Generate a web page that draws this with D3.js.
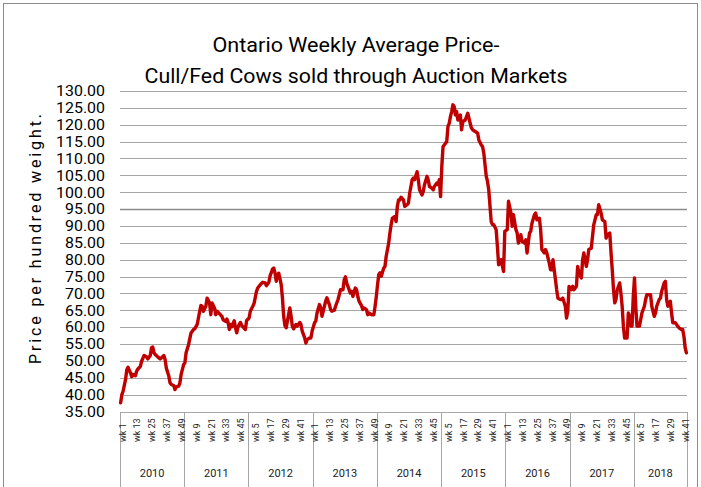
<!DOCTYPE html>
<html><head><meta charset="utf-8">
<script src="https://cdn.jsdelivr.net/npm/d3@7"></script>
<style>body{margin:0;background:#fff} svg{display:block}</style>
</head><body><svg id="c" width="701" height="487"></svg>
<script>
// ---- data (week number within year, price per cwt) ----
const years = [2010, 2011, 2012, 2013, 2014, 2015, 2016, 2017, 2018];
const weeksInYear = [52, 52, 52, 52, 52, 52, 52, 52, 43];
const yTicks = [35,40,45,50,55,60,65,70,75,80,85,90,95,100,105,110,115,120,125,130];
const titleLines = ["Ontario Weekly Average Price-", "Cull/Fed Cows sold through Auction Markets"];
const yTitle = "Price per hundred weight.";

const price2010 = [[1,37.6],[2,40.0],[3,41.0],[5,44.5],[6,47.4],[7,48.1],[9,46.4],[10,45.3],[11,46.0],[13,45.6],[14,47.0],[15,47.6],[17,48.4],[18,49.9],[20,51.6],[22,51.2],[23,50.6],[25,51.6],[26,53.9],[27,54.1],[28,52.4],[29,51.9],[31,51.2],[33,50.6],[34,50.9],[36,51.6],[37,50.4],[38,47.9],[40,45.5],[41,43.5],[42,43.0],[44,42.7],[45,41.5],[46,42.3],[48,42.5],[49,43.5],[50,46.0],[52,48.9]];
const price2011 = [[1,49.4],[2,52.4],[4,54.8],[6,58.3],[8,59.3],[9,59.5],[11,60.8],[12,62.7],[13,64.7],[14,66.4],[15,66.2],[16,64.7],[18,66.2],[19,68.6],[21,67.2],[22,63.7],[23,67.2],[24,66.4],[25,65.7],[26,63.7],[27,64.7],[29,64.0],[31,63.2],[32,62.2],[34,61.7],[35,62.4],[36,61.4],[37,59.3],[38,60.8],[39,60.1],[41,61.9],[42,59.8],[43,58.3],[44,60.1],[46,61.4],[47,60.5],[48,60.1],[50,59.3],[51,62.0]];
const price2012 = [[1,62.7],[2,64.7],[4,66.2],[5,67.0],[7,70.6],[8,71.6],[10,72.6],[12,73.3],[14,73.1],[15,72.3],[17,73.3],[18,75.2],[20,77.2],[21,77.5],[22,76.0],[23,73.6],[24,75.5],[25,76.0],[27,72.6],[28,68.6],[29,63.2],[30,60.5],[31,59.8],[33,63.7],[34,65.7],[35,63.2],[36,60.3],[37,59.5],[39,60.8],[40,60.3],[42,61.4],[43,60.8],[44,58.8],[46,56.8],[47,55.3],[48,56.3],[50,56.8],[51,56.8],[52,58.8]];
const price2013 = [[2,61.3],[3,61.8],[4,64.2],[6,66.7],[7,65.7],[8,63.2],[10,66.2],[11,67.7],[12,68.7],[14,66.7],[15,65.2],[16,64.7],[18,65.0],[19,66.2],[21,68.2],[22,69.6],[23,71.1],[25,71.1],[26,74.1],[27,74.9],[28,73.1],[29,72.1],[31,70.1],[32,70.6],[33,69.1],[35,71.6],[36,71.1],[37,69.1],[38,67.7],[40,66.4],[41,65.2],[42,65.7],[44,65.2],[45,63.7],[46,64.2],[48,63.7],[50,63.7],[51,66.2],[52,69.1]];
const price2014 = [[1,72.6],[2,75.6],[3,76.1],[4,75.1],[6,77.5],[7,78.0],[8,81.0],[10,84.9],[11,87.9],[12,90.4],[13,92.3],[15,92.8],[16,91.3],[17,95.8],[18,97.7],[19,97.7],[20,98.5],[22,97.7],[23,95.8],[25,96.3],[26,96.8],[27,99.7],[29,103.7],[30,104.2],[31,103.7],[33,106.1],[34,103.7],[35,100.7],[37,99.2],[38,100.2],[39,102.2],[41,104.7],[42,103.7],[43,101.7],[45,101.2],[46,100.7],[47,101.7],[49,102.7],[50,102.2],[51,103.7],[52,98.7]];
const price2015 = [[1,107.6],[2,113.5],[4,114.5],[5,115.0],[6,119.5],[7,120.4],[8,122.4],[9,123.9],[10,125.9],[11,125.4],[12,122.9],[13,123.9],[14,121.4],[16,122.9],[17,118.5],[18,120.9],[20,121.4],[21,122.4],[22,123.4],[24,120.4],[25,119.0],[26,118.5],[28,118.0],[30,117.5],[31,115.5],[33,114.0],[34,113.5],[35,111.6],[37,104.7],[38,103.2],[39,100.7],[41,91.3],[42,90.4],[43,90.4],[45,88.9],[46,84.0],[47,78.5],[48,79.0],[49,80.0],[51,76.5],[52,88.4]];
const price2016 = [[2,88.9],[3,97.3],[5,93.8],[6,89.9],[7,93.3],[9,88.9],[10,87.9],[11,84.9],[13,87.4],[14,85.4],[16,84.9],[17,85.9],[18,82.0],[20,87.9],[21,88.4],[22,90.8],[24,93.3],[25,93.8],[26,91.8],[28,92.3],[29,88.9],[30,83.0],[32,82.0],[33,83.0],[34,82.0],[36,79.0],[37,77.0],[38,77.0],[39,80.0],[41,74.1],[42,71.1],[43,68.6],[45,68.2],[46,68.2],[47,68.6],[49,66.2],[50,62.7],[51,64.7],[52,72.1]];
const price2017 = [[2,71.1],[3,72.1],[4,71.1],[6,72.1],[7,78.0],[8,76.0],[10,74.6],[11,80.0],[12,82.0],[14,78.0],[15,80.0],[16,83.0],[18,83.4],[19,86.9],[20,90.3],[22,93.3],[23,93.3],[24,96.3],[26,93.8],[27,91.8],[29,91.3],[30,86.4],[31,87.4],[33,87.9],[34,82.0],[35,77.0],[36,71.1],[37,67.2],[38,68.2],[39,71.1],[41,73.1],[42,70.1],[43,66.2],[44,60.3],[45,56.8],[47,56.8],[48,64.2],[49,63.2],[50,60.3],[51,60.3],[52,69.1]];
const price2018 = [[1,74.6],[2,66.2],[3,60.3],[5,60.3],[6,62.2],[7,64.2],[9,66.2],[10,68.2],[11,69.6],[13,69.6],[14,69.6],[15,66.2],[17,63.2],[18,64.2],[19,66.2],[21,68.2],[22,68.6],[23,70.6],[25,73.1],[26,73.6],[27,68.2],[28,66.2],[30,67.7],[31,64.2],[32,61.3],[34,61.3],[36,60.3],[37,59.8],[39,59.3],[40,59.3],[41,57.3],[42,53.9],[43,52.4]];
const pricesByYear = [price2010, price2011, price2012, price2013, price2014, price2015, price2016, price2017, price2018];
const labelEvery = 12;

// ---- build categories ----
const cats = [];
years.forEach((y, yi) => { for (let w = 1; w <= weeksInYear[yi]; w++) cats.push({year: y, week: w, key: y + "-" + w}); });
const points = [];
pricesByYear.forEach((arr, yi) => arr.forEach(([w, v]) => points.push({key: years[yi] + "-" + w, v})));

const L = 120, R = 687, T = 91, B = 411.5;
const svg = d3.select("#c");
const x = d3.scaleBand().domain(cats.map(c => c.key)).range([L, R]).padding(0);
const y = d3.scaleLinear().domain([35, 130]).range([B, T]);
const cx = k => x(k) + x.bandwidth() / 2;

// outer border
svg.append("rect").attr("x", 3.5).attr("y", 3.5).attr("width", 694).attr("height", 490)
  .attr("fill", "none").attr("stroke", "#8c8c8c").attr("stroke-width", 1);

// gridlines
svg.append("g").selectAll("line").data(yTicks.filter(t => t > 35)).join("line")
  .attr("x1", L).attr("x2", R).attr("y1", d => Math.round(y(d)) + 0.5).attr("y2", d => Math.round(y(d)) + 0.5)
  .attr("stroke", d => d === 95 ? "#8a8a8a" : "#a6a6a6").attr("stroke-width", d => d === 95 ? 1.5 : 1);

// y axis labels
const yAxis = d3.axisLeft(y).tickValues(yTicks).tickFormat(d3.format(".2f")).tickSize(0).tickPadding(15);
const gy = svg.append("g").attr("transform", `translate(${L},0)`).call(yAxis);
gy.select(".domain").remove();
gy.selectAll("text").attr("font-family", "Roboto, sans-serif").attr("font-size", 15).attr("fill", "#000")
  .attr("textLength", 49).attr("lengthAdjust", "spacingAndGlyphs");
gy.selectAll(".tick").filter(d => d < 100).selectAll("text").attr("textLength", 40);

// x axis line
svg.append("line").attr("x1", L).attr("x2", R).attr("y1", Math.round(B) + 0.5).attr("y2", Math.round(B) + 0.5)
  .attr("stroke", "#a6a6a6");

// year group separators
const bounds = [];
years.forEach((yr, yi) => bounds.push(x(yr + "-1")));
bounds.push(R);
svg.append("g").selectAll("line").data(bounds).join("line")
  .attr("x1", d => Math.round(d) + 0.5).attr("x2", d => Math.round(d) + 0.5)
  .attr("y1", Math.round(B)).attr("y2", 487).attr("stroke", "#a6a6a6");

// week labels
const wkCats = cats.filter((c, i) => i % labelEvery === 0);
svg.append("g").selectAll("text").data(wkCats).join("text")
  .attr("transform", d => `translate(${cx(d.key) + 2},442) rotate(-90)`)
  .attr("dominant-baseline", "central")
  .attr("font-family", "Roboto, sans-serif").attr("font-size", 9).attr("fill", "#222")
  .text(d => "wk " + d.week);

// year labels
svg.append("g").selectAll("text").data(years).join("text")
  .attr("x", (d, i) => (bounds[i] + bounds[i + 1]) / 2).attr("y", 473)
  .attr("text-anchor", "middle").attr("dominant-baseline", "central")
  .attr("font-family", "Roboto, sans-serif").attr("font-size", 11).attr("fill", "#222")
  .text(d => d);

// line
const line = d3.line().x(d => cx(d.key)).y(d => y(d.v)).curve(d3.curveLinear);
svg.append("path").datum(points).attr("d", line).attr("fill", "none")
  .attr("stroke", "#c00000").attr("stroke-width", 3.4).attr("stroke-linejoin", "round").attr("stroke-linecap", "round");

// title
svg.append("text").attr("x", 356).attr("y", 52).attr("text-anchor", "middle")
  .attr("font-family", "Roboto, sans-serif").attr("font-size", 21).attr("fill", "#000")
  .attr("textLength", 287).attr("lengthAdjust", "spacingAndGlyphs").text(titleLines[0]);
svg.append("text").attr("x", 356).attr("y", 83).attr("text-anchor", "middle")
  .attr("font-family", "Roboto, sans-serif").attr("font-size", 21).attr("fill", "#000")
  .attr("textLength", 423).attr("lengthAdjust", "spacingAndGlyphs").text(titleLines[1]);

// y title
svg.append("text").attr("transform", "translate(35,239) rotate(-90)")
  .attr("text-anchor", "middle").attr("dominant-baseline", "central")
  .attr("font-family", "Roboto, sans-serif").attr("font-size", 16).attr("fill", "#000")
  .attr("textLength", 250).attr("lengthAdjust", "spacing").text(yTitle);
</script></body></html>
